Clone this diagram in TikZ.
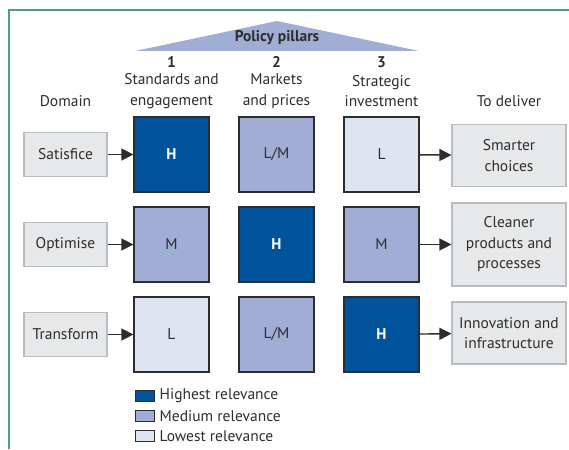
\documentclass[tikz,border=0pt]{standalone}
\usepackage{fontspec}
\setmainfont{PT Sans}
\usetikzlibrary{arrows.meta}
\definecolor{hiblue}{RGB}{0,82,155}
\definecolor{medblue}{RGB}{160,174,213}
\definecolor{lowblue}{RGB}{222,228,240}
\definecolor{boxgrey}{RGB}{231,232,234}
\definecolor{boxline}{RGB}{182,188,194}
\definecolor{framegreen}{RGB}{78,160,120}
\definecolor{ink}{RGB}{45,45,45}
\newcommand{\sq}{75pt}
\newcommand{\txtsize}{\fontsize{15.5}{20.5}\selectfont}

\begin{document}
\begin{tikzpicture}[x=1pt,y=-1pt,font=\txtsize,text=ink,
  cell/.style={draw=ink,line width=1.2pt,minimum size=\sq,inner sep=0pt},
  hi/.style={cell,fill=hiblue,text=white,font=\txtsize\bfseries},
  med/.style={cell,fill=medblue},
  low/.style={cell,fill=lowblue},
  domainbox/.style={draw=boxline,fill=boxgrey,line width=1.2pt,minimum width=83pt,minimum height=44pt,inner sep=0pt},
  deliverbox/.style={draw=boxline,fill=boxgrey,line width=1.2pt,minimum width=114pt,minimum height=62pt,align=center,inner sep=2pt},
  swatch/.style={draw=ink,line width=1pt,minimum width=19pt,minimum height=11pt,inner sep=0pt},
  arr/.style={draw=ink,line width=1.4pt,-{Triangle[length=12pt,width=12pt]}}]
\useasboundingbox (0,0) rectangle (569,449);
\draw[framegreen,line width=1.2pt] (569,10) -- (9,10) -- (9,449);

% pillar roof
\fill[medblue] (135,51) -- (277,21) -- (419,51) -- cycle;
\node[font=\txtsize\bfseries] (roof) at (277,38) {Policy pillars};

% column heads
\foreach \c/\x/\t in {1/171.5/{Standards and\\engagement},2/276.5/{Markets\\and prices},3/381.5/{Strategic\\investment}}{
\node[font=\txtsize\bfseries] (n\c) at (\x,62) {\c};
\node[align=center] (h\c) at (\x,91) {\t};
}
\node (dom) at (65.5,101) {Domain};
\node (todel) at (509,101) {To deliver};

% relevance matrix
\foreach \r/\c/\s/\t in {1/1/hi/H,1/2/med/{L/M},1/3/low/L,
                         2/1/med/M,2/2/hi/H,2/3/med/M,
                         3/1/low/L,3/2/med/{L/M},3/3/hi/H}{
\node[\s] (c\r\c) at (66.5+105*\c,64.5+90*\r) {\t};
}

% domains and outcomes
\foreach \r/\t in {1/Satisfice,2/Optimise,3/Transform}{
\node[domainbox] (d\r) at (65.5,64.5+90*\r) {\t};
\draw[arr] (d\r) -- (c\r1);
}
\node[deliverbox] (o1) at (509,155.5) {Smarter\\choices};
\node[deliverbox,minimum height=83pt] (o2) at (509,244.5) {Cleaner\\products and\\processes};
\node[deliverbox] (o3) at (509,333) {Innovation and\\infrastructure};
\foreach \r in {1,2,3}{
\draw[arr] (c\r3) -- (o\r);
}

% legend
\foreach \s/\t [count=\i] in {hiblue/Highest relevance,medblue/Medium relevance,lowblue/Lowest relevance}{
\node[swatch,fill=\s] (k\i) at (144.5,376+20*\i) {};
\node[anchor=west,inner xsep=5pt] (kt\i) at (k\i.east) {\t};
}
\end{tikzpicture}
\end{document}
